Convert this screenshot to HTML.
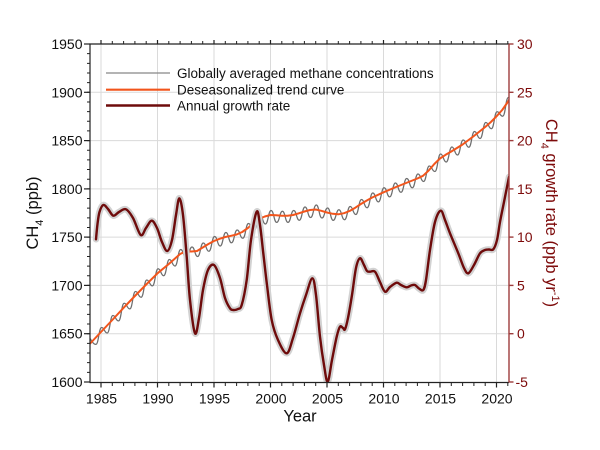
<!DOCTYPE html>
<html><head><meta charset="utf-8"><style>
html,body{margin:0;padding:0;background:#fff;}
svg{display:block;font-family:"Liberation Sans",Arial,sans-serif;}
</style></head><body>
<svg width="600" height="450" viewBox="0 0 600 450" xmlns="http://www.w3.org/2000/svg">
<defs><clipPath id="pc"><rect x="90" y="44" width="419" height="338.5"/></clipPath></defs>
<rect width="600" height="450" fill="#fff"/>
<!-- grid -->
<g stroke="#dadada" stroke-width="1">
<line x1="101" y1="44" x2="101" y2="382"/><line x1="157.5" y1="44" x2="157.5" y2="382"/>
<line x1="214" y1="44" x2="214" y2="382"/><line x1="270.5" y1="44" x2="270.5" y2="382"/>
<line x1="327" y1="44" x2="327" y2="382"/><line x1="383.5" y1="44" x2="383.5" y2="382"/>
<line x1="440" y1="44" x2="440" y2="382"/><line x1="496.5" y1="44" x2="496.5" y2="382"/>
<line x1="90" y1="92.3" x2="509" y2="92.3"/><line x1="90" y1="140.6" x2="509" y2="140.6"/>
<line x1="90" y1="188.9" x2="509" y2="188.9"/><line x1="90" y1="237.1" x2="509" y2="237.1"/>
<line x1="90" y1="285.4" x2="509" y2="285.4"/><line x1="90" y1="333.7" x2="509" y2="333.7"/>
</g>
<g clip-path="url(#pc)" fill="none" stroke-linejoin="round" stroke-linecap="round">
<!-- monthly gray -->
<path stroke="#6e6e6e" stroke-width="1.25" d="M90.5,339 S93.1,344.4 95.9,344.4 S98.8,327.5 101.6,327.5 S104.4,333 107.2,333 S110.1,315.5 112.9,315.5 S115.7,320.9 118.5,320.9 S121.4,303.3 124.2,303.3 S127,308.9 129.8,308.9 S132.7,291.5 135.5,291.5 S138.3,297.3 141.1,297.3 S144,280 146.8,280 S149.6,285.9 152.4,285.9 S155.3,268.8 158.1,268.8 S160.9,275.7 163.7,275.7 S166.6,259.5 169.4,259.5 S172.2,266 175,266 S177.9,249.5 180.7,249.5 S183.5,258.3 186.3,258.3 S189.2,247 192,247 S194.8,256.5 197.6,256.5 S200.5,243 203.3,243 S206.1,251.3 208.9,251.3 S211.8,236.5 214.6,236.5 S217.4,246 220.2,246 S223.1,232.5 225.9,232.5 S228.7,242.8 231.5,242.8 S234.4,230 237.2,230 S240,238.3 242.8,238.3 S245.7,223.5 248.5,223.5 S251.3,230.5 254.1,230.5 S257,214.5 259.8,214.5 S262.6,224 265.4,224 S268.3,210.5 271.1,210.5 S273.9,222.4 276.7,222.4 S279.6,211.3 282.4,211.3 S285.2,222.4 288,222.4 S290.9,210.5 293.7,210.5 S296.5,220.3 299.3,220.3 S302.2,207 305,207 S307.8,217.5 310.6,217.5 S313.5,205 316.3,205 S319.1,218 321.9,218 S324.8,208 327.6,208 S330.4,220.4 333.2,220.4 S336.1,209.8 338.9,209.8 S341.7,219.7 344.5,219.7 S347.4,206.5 350.2,206.5 S353,214.5 355.8,214.5 S358.7,199.5 361.5,199.5 S364.3,207.8 367.1,207.8 S370,193 372.8,193 S375.6,201.9 378.4,201.9 S381.3,187.8 384.1,187.8 S386.9,196.9 389.7,196.9 S392.6,183 395.4,183 S398.2,192.3 401,192.3 S403.9,178.5 406.7,178.5 S409.5,187.8 412.3,187.8 S415.2,174 418,174 S420.8,181.5 423.6,181.5 S426.5,166 429.3,166 S432.1,171.5 434.9,171.5 S437.8,154 440.6,154 S443.4,162 446.2,162 S449.1,147 451.9,147 S454.7,155 457.5,155 S460.4,140 463.2,140 S466,147.3 468.8,147.3 S471.7,131.5 474.5,131.5 S477.3,138.5 480.1,138.5 S483,122.5 485.8,122.5 S488.6,128.7 491.4,128.7 S494.3,111.8 497.1,111.8 S499.9,116.2 502.7,116.2 S505.6,97.5 508.4,97.5"/>
<!-- trend orange -->
<polyline stroke="#f2551c" stroke-width="2" points="89.7,344 101,332 112.3,320 123.6,307.8 134.9,296 146.2,284.5 157.5,273.3 168.8,264 180.1,254 185.75,251.3 191.4,251.5 197.05,251 202.7,247.5 208.4,244 214,241 219.6,238.8 225.3,237 231,235.8 236.6,234.5 242.2,232 247.9,228 253.5,223.2 259.2,219 264.8,216.5 270.5,215 276.2,215.3 281.8,215.8 287.5,215.7 293.1,215 298.8,213.3 304.4,211.5 310,210 315.7,209.5 321.3,210.8 327,212.5 332.7,213.8 338.3,214.3 344,213.2 349.6,211 355.3,207.7 360.9,204 366.6,200.6 372.2,197.5 383.5,192.3 394.8,187.5 406.1,183 417.4,178.5 423,175.8 428.7,170.5 434.3,164 440,158.5 445.6,154.8 451.3,151.5 462.6,144.5 473.9,136 485.2,127 490.9,122 496.5,116.3 502.2,110 507.8,102 509,100"/>
<!-- growth band -->
<path id="gr" stroke="#d2d2d2" stroke-width="6.5" d="M96,239.3 S96.92,228.55 97.5,224 S98.53,215.17 99.5,212 S101.88,205.5 103.3,205 S106.33,207.22 108,209 S111.47,215.2 113.3,215.7 S116.88,213.07 119,212 S123.67,208.3 126,209.3 S130.55,213.72 133,218 S138.53,233.33 140.7,235 S144.17,230.38 146,228 S149.87,220.7 151.7,220.7 S155.28,224.45 157,228 S160.28,238.17 162,242 S165.63,251.33 167.3,251 S170.55,246 172,240 S174.78,221.95 176,215 S178.13,198.3 179.3,198.3 S181.77,205.27 183,215 S185.53,242.53 186.7,256.7 S188.62,287.23 190,300 S193.5,330.3 195,333.3 S197.67,325.22 199,318 S201.5,298 203,290 S206.17,274.17 208,270 S212,263.67 214,265 S218.17,272.5 220,278 S223.33,292.95 225,298 S228.62,306.3 230,308.3 S231.97,309.88 233.3,310 S236.6,309.83 238,309 S240.25,309.83 241.7,305 S245.15,290.83 246.7,280 S249.33,251.38 251,240 S255.2,214.2 256.7,211.7 S258.9,218.07 260,225 S262.13,243.3 263.3,253.3 S265.6,273.88 267,285 S269.87,310.83 271.7,320 S275.5,334.45 278,340 S284.2,353.63 286.7,353.3 S290.78,344.67 293,338 S297.83,320.47 300,313.3 S303.95,300.83 306,295 S310.63,278.3 312.3,278.3 S314.72,285.27 316,295 S318.67,325.03 320,336.7 S322.72,357.5 324,365 S326.37,382.53 327.7,381.7 S330.5,367.5 332,360 S335.37,342.25 336.7,336.7 S338.95,328.15 340,326.7 S342.17,327.57 343,328 S344.17,330.97 345,329.3 S346.83,323.72 348,318 S350.67,303.33 352,295 S354.67,274.12 356,268 S358.67,258.8 360,258.3 S362.83,262.88 364,265 S366,269.88 367,271 S368.67,271.58 370,271.7 S373.33,269.98 375,271.7 S378.33,278.67 380,282 S383.33,290.87 385,291.7 S388.05,288.5 390,287 S394.87,283.03 396.7,282.7 S399.33,284.23 401,285 S405.03,287.22 406.7,287.3 S409.62,285.88 411,285.5 S413.67,284.5 415,285 S417.62,287.67 419,288.5 S422.13,291.42 423.3,290 S424.88,286.67 426,280 S428.5,259.67 430,250 S433.22,228.55 435,222 S439.03,211.03 440.7,210.7 S443.45,216.23 445,220 S447.78,227.75 450,233.3 S455.97,247.52 458.3,253.3 S462.33,264.67 464,268 S466.63,273.8 468.3,273.3 S472.05,268.33 474,265 S478.17,255.8 480,253.3 S483.5,250.63 485,250 S487.62,249.62 489,249.5 S491.97,250.88 493.3,249.3 S495.88,244.55 497,240 S498.83,228.33 500,222 S502.5,209.5 504,202 S508.1,181.2 509,177"/>
<!-- growth line -->
<path stroke="#6e0b0b" stroke-width="2.4" d="M96,239.3 S96.92,228.55 97.5,224 S98.53,215.17 99.5,212 S101.88,205.5 103.3,205 S106.33,207.22 108,209 S111.47,215.2 113.3,215.7 S116.88,213.07 119,212 S123.67,208.3 126,209.3 S130.55,213.72 133,218 S138.53,233.33 140.7,235 S144.17,230.38 146,228 S149.87,220.7 151.7,220.7 S155.28,224.45 157,228 S160.28,238.17 162,242 S165.63,251.33 167.3,251 S170.55,246 172,240 S174.78,221.95 176,215 S178.13,198.3 179.3,198.3 S181.77,205.27 183,215 S185.53,242.53 186.7,256.7 S188.62,287.23 190,300 S193.5,330.3 195,333.3 S197.67,325.22 199,318 S201.5,298 203,290 S206.17,274.17 208,270 S212,263.67 214,265 S218.17,272.5 220,278 S223.33,292.95 225,298 S228.62,306.3 230,308.3 S231.97,309.88 233.3,310 S236.6,309.83 238,309 S240.25,309.83 241.7,305 S245.15,290.83 246.7,280 S249.33,251.38 251,240 S255.2,214.2 256.7,211.7 S258.9,218.07 260,225 S262.13,243.3 263.3,253.3 S265.6,273.88 267,285 S269.87,310.83 271.7,320 S275.5,334.45 278,340 S284.2,353.63 286.7,353.3 S290.78,344.67 293,338 S297.83,320.47 300,313.3 S303.95,300.83 306,295 S310.63,278.3 312.3,278.3 S314.72,285.27 316,295 S318.67,325.03 320,336.7 S322.72,357.5 324,365 S326.37,382.53 327.7,381.7 S330.5,367.5 332,360 S335.37,342.25 336.7,336.7 S338.95,328.15 340,326.7 S342.17,327.57 343,328 S344.17,330.97 345,329.3 S346.83,323.72 348,318 S350.67,303.33 352,295 S354.67,274.12 356,268 S358.67,258.8 360,258.3 S362.83,262.88 364,265 S366,269.88 367,271 S368.67,271.58 370,271.7 S373.33,269.98 375,271.7 S378.33,278.67 380,282 S383.33,290.87 385,291.7 S388.05,288.5 390,287 S394.87,283.03 396.7,282.7 S399.33,284.23 401,285 S405.03,287.22 406.7,287.3 S409.62,285.88 411,285.5 S413.67,284.5 415,285 S417.62,287.67 419,288.5 S422.13,291.42 423.3,290 S424.88,286.67 426,280 S428.5,259.67 430,250 S433.22,228.55 435,222 S439.03,211.03 440.7,210.7 S443.45,216.23 445,220 S447.78,227.75 450,233.3 S455.97,247.52 458.3,253.3 S462.33,264.67 464,268 S466.63,273.8 468.3,273.3 S472.05,268.33 474,265 S478.17,255.8 480,253.3 S483.5,250.63 485,250 S487.62,249.62 489,249.5 S491.97,250.88 493.3,249.3 S495.88,244.55 497,240 S498.83,228.33 500,222 S502.5,209.5 504,202 S508.1,181.2 509,177"/>
</g>
<!-- axes -->
<g stroke="#222" fill="none">
<line x1="90" y1="44" x2="90" y2="382.5" stroke-width="1.2"/>
<line x1="89.5" y1="44" x2="509" y2="44" stroke-width="1.2"/>
<line x1="89.5" y1="382.5" x2="509" y2="382.5" stroke-width="1.2"/>
<line x1="88.5" y1="43.5" x2="88.5" y2="383" stroke-width="3" stroke-dasharray="1 8.657"/>
<line x1="100.5" y1="42.5" x2="510" y2="42.5" stroke-width="3" stroke-dasharray="1 10.3"/>
<line x1="100.5" y1="384.5" x2="510" y2="384.5" stroke-width="3" stroke-dasharray="1 10.3"/>
<g stroke-width="1.2">
<line x1="84" y1="44" x2="90" y2="44"/><line x1="84" y1="92.3" x2="90" y2="92.3"/>
<line x1="84" y1="140.6" x2="90" y2="140.6"/><line x1="84" y1="188.9" x2="90" y2="188.9"/>
<line x1="84" y1="237.1" x2="90" y2="237.1"/><line x1="84" y1="285.4" x2="90" y2="285.4"/>
<line x1="84" y1="333.7" x2="90" y2="333.7"/><line x1="84" y1="382" x2="90" y2="382"/>
<line x1="101" y1="40" x2="101" y2="44"/><line x1="157.5" y1="40" x2="157.5" y2="44"/>
<line x1="214" y1="40" x2="214" y2="44"/><line x1="270.5" y1="40" x2="270.5" y2="44"/>
<line x1="327" y1="40" x2="327" y2="44"/><line x1="383.5" y1="40" x2="383.5" y2="44"/>
<line x1="440" y1="40" x2="440" y2="44"/><line x1="496.5" y1="40" x2="496.5" y2="44"/>
<line x1="101" y1="382" x2="101" y2="387.5"/><line x1="157.5" y1="382" x2="157.5" y2="387.5"/>
<line x1="214" y1="382" x2="214" y2="387.5"/><line x1="270.5" y1="382" x2="270.5" y2="387.5"/>
<line x1="327" y1="382" x2="327" y2="387.5"/><line x1="383.5" y1="382" x2="383.5" y2="387.5"/>
<line x1="440" y1="382" x2="440" y2="387.5"/><line x1="496.5" y1="382" x2="496.5" y2="387.5"/>
</g>
</g>
<!-- right axis -->
<g stroke="#9e3d3d" stroke-width="1.4">
<line x1="509" y1="44" x2="509" y2="382.5"/>
<line x1="509" y1="44" x2="513.5" y2="44"/><line x1="509" y1="92.3" x2="513.5" y2="92.3"/>
<line x1="509" y1="140.6" x2="513.5" y2="140.6"/><line x1="509" y1="188.9" x2="513.5" y2="188.9"/>
<line x1="509" y1="237.1" x2="513.5" y2="237.1"/><line x1="509" y1="285.4" x2="513.5" y2="285.4"/>
<line x1="509" y1="333.7" x2="513.5" y2="333.7"/><line x1="509" y1="382" x2="513.5" y2="382"/>
</g>
<!-- left tick labels -->
<g font-size="14" fill="#111" text-anchor="end">
<text x="82.5" y="49">1950</text><text x="82.5" y="97.3">1900</text>
<text x="82.5" y="145.6">1850</text><text x="82.5" y="193.9">1800</text>
<text x="82.5" y="242.1">1750</text><text x="82.5" y="290.4">1700</text>
<text x="82.5" y="338.7">1650</text><text x="82.5" y="387">1600</text>
</g>
<!-- bottom tick labels -->
<g font-size="14" fill="#111" text-anchor="middle">
<text x="101.5" y="403.5">1985</text><text x="158" y="403.5">1990</text>
<text x="214.5" y="403.5">1995</text><text x="271" y="403.5">2000</text>
<text x="327.5" y="403.5">2005</text><text x="384" y="403.5">2010</text>
<text x="440.5" y="403.5">2015</text><text x="497" y="403.5">2020</text>
</g>
<!-- right tick labels -->
<g font-size="14" fill="#7d0a0a">
<text x="517" y="49">30</text><text x="517" y="97.3">25</text>
<text x="517" y="145.6">20</text><text x="517" y="193.9">15</text>
<text x="517" y="242.1">10</text><text x="517" y="290.4">5</text>
<text x="517" y="338.7">0</text><text x="515.5" y="387">-5</text>
</g>
<!-- axis titles -->
<text x="300" y="421.5" font-size="16.5" fill="#111" text-anchor="middle">Year</text>
<text transform="translate(38,213) rotate(-90)" font-size="16.5" fill="#111" text-anchor="middle">CH<tspan font-size="11" dy="5">4</tspan><tspan dy="-5"> (ppb)</tspan></text>
<text transform="translate(546,213) rotate(90)" font-size="16.5" fill="#7d0a0a" text-anchor="middle">CH<tspan font-size="11" dy="5">4</tspan><tspan dy="-5"> growth rate (ppb yr</tspan><tspan font-size="11" dy="-6">-1</tspan><tspan dy="6">)</tspan></text>
<!-- legend -->
<line x1="106" y1="73" x2="170" y2="73" stroke="#888" stroke-width="1.3"/>
<line x1="106" y1="89.7" x2="170" y2="89.7" stroke="#f2551c" stroke-width="2.2"/>
<line x1="106" y1="105.5" x2="170" y2="105.5" stroke="#6e0b0b" stroke-width="2.5"/>
<g font-size="13.5" fill="#111">
<text x="177" y="78">Globally averaged methane concentrations</text>
<text x="177" y="94.7">Deseasonalized trend curve</text>
<text x="177" y="110.5">Annual growth rate</text>
</g>
</svg>
</body></html>
